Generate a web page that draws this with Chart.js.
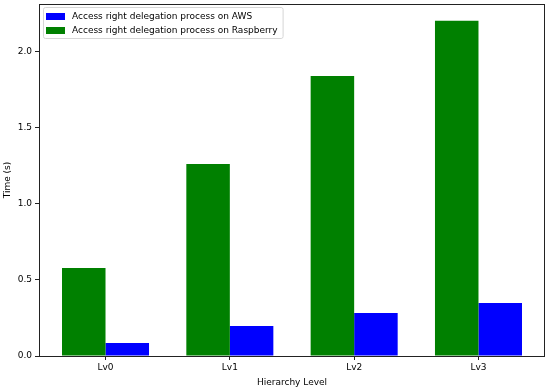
<!DOCTYPE html>
<html>
<head>
<meta charset="utf-8">
<script src="https://cdn.jsdelivr.net/npm/chart.js@4/dist/chart.umd.min.js"></script>
<style>
  html, body { margin: 0; padding: 0; background: #fff; }
</style>
</head>
<body>
<canvas id="barChart" width="550" height="388"></canvas>
<script>
// values
const levels = ['Lv0', 'Lv1', 'Lv2', 'Lv3'];
const awsTimes = [0.086, 0.198, 0.283, 0.349];
const raspberryTimes = [0.579, 1.262, 1.842, 2.205];
const yTicks = [0, 0.5, 1.0, 1.5, 2.0];

const FONT = 'DejaVu Sans';
const FS = 9;

// box around the plot area + legend inside it, matplotlib style
const frameAndLegend = {
  id: 'frameAndLegend',
  afterDraw(chart) {
    const { ctx, chartArea: a } = chart;
    ctx.save();
    ctx.strokeStyle = '#222';
    ctx.lineWidth = 1;
    ctx.strokeRect(a.left + 0.5, a.top + 0.5, a.right - a.left - 1, a.bottom - a.top);

    // legend: AWS first, then Raspberry (reverse of draw order)
    const items = chart.data.datasets.slice().reverse();
    const x0 = a.left + 4, y0 = a.top + 3;
    ctx.font = FS + 'px ' + FONT;
    let w = 0;
    items.forEach(d => { w = Math.max(w, ctx.measureText(d.label).width); });
    const boxW = 29 + w + 5, boxH = 31;
    ctx.fillStyle = 'rgba(255,255,255,0.8)';
    ctx.strokeStyle = '#d6d6d6';
    ctx.beginPath();
    ctx.roundRect(x0 + 0.5, y0 + 0.5, boxW, boxH, 2);
    ctx.fill();
    ctx.stroke();
    items.forEach((d, i) => {
      const cy = y0 + 9 + i * 14;
      ctx.fillStyle = d.backgroundColor;
      ctx.fillRect(x0 + 3, cy - 3, 19, 7);
      ctx.fillStyle = '#000';
      ctx.textBaseline = 'middle';
      ctx.textAlign = 'left';
      ctx.fillText(d.label, x0 + 29, cy + 1);
    });
    ctx.restore();
  }
};

const toPoints = vals => vals.map((v, i) => ({ x: i, y: v }));

const ctx = document.getElementById('barChart').getContext('2d');
new Chart(ctx, {
  type: 'bar',
  data: {
    datasets: [
      {
        label: 'Access right delegation process on Raspberry',
        data: toPoints(raspberryTimes),
        backgroundColor: '#008000'
      },
      {
        label: 'Access right delegation process on AWS',
        data: toPoints(awsTimes),
        backgroundColor: '#0000ff'
      }
    ]
  },
  options: {
    responsive: false,
    animation: false,
    devicePixelRatio: 1,
    layout: { padding: { top: 4, right: 5, left: 0, bottom: 0 } },
    datasets: {
      bar: { categoryPercentage: 0.7, barPercentage: 1.0 }
    },
    plugins: {
      legend: { display: false },
      tooltip: { enabled: false }
    },
    scales: {
      x: {
        type: 'linear',
        offset: false,
        min: -0.535,
        max: 3.535,
        afterBuildTicks(s) { s.ticks = levels.map((l, i) => ({ value: i })); },
        grid: { display: true, offset: false, drawOnChartArea: false, drawTicks: true, tickLength: 4, color: '#222' },
        border: { display: false },
        ticks: { color: '#000', font: { family: FONT, size: FS }, padding: 2, callback: v => levels[v] },
        title: { display: true, text: 'Hierarchy Level', color: '#000', font: { family: FONT, size: FS }, padding: { top: 2, bottom: 0 } },
        afterFit(s) { s.height = 32; s.paddingLeft = 0; s.paddingRight = 0; }
      },
      y: {
        min: 0,
        max: 2.315,
        afterBuildTicks(s) { s.ticks = yTicks.map(v => ({ value: v })); },
        grid: { display: true, drawOnChartArea: false, drawTicks: true, tickLength: 4, color: '#222' },
        border: { display: false },
        ticks: {
          color: '#000',
          font: { family: FONT, size: FS },
          padding: 3,
          callback: v => Number(v).toFixed(1)
        },
        title: { display: true, text: 'Time (s)', color: '#000', font: { family: FONT, size: FS }, padding: { top: 2, bottom: 0 } },
        afterFit(s) { s.width = 39; s.paddingTop = 0; s.paddingBottom = 0; }
      }
    }
  },
  plugins: [frameAndLegend]
});
</script>
</body>
</html>
